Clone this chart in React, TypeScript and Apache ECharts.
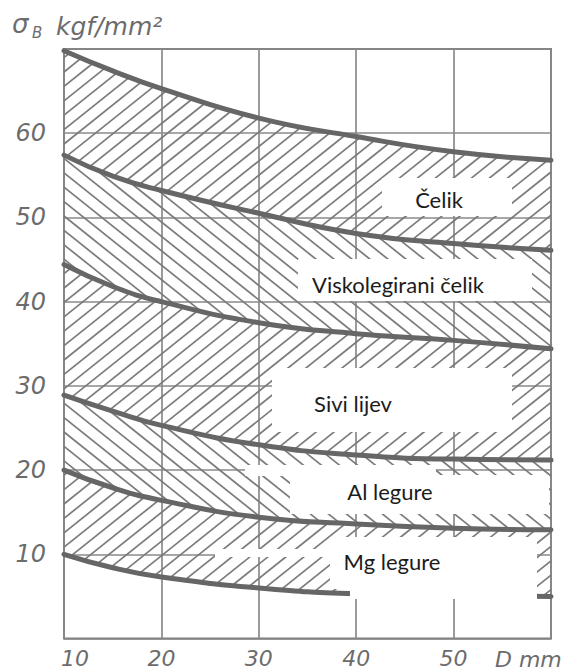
import React, { useEffect, useRef } from "react";
import * as echarts from "echarts";

// ---- data ----
const X_VALUES = [10, 15, 20, 30, 40, 50, 60];
const CELIK_TOP = [69.8, 67.4, 65.3, 61.8, 59.6, 57.8, 56.8];
const CELIK_VISKO = [57.4, 54.9, 53.2, 50.5, 48.1, 46.9, 46.1];
const VISKO_SIVI = [44.4, 41.8, 40.0, 37.5, 36.2, 35.4, 34.4];
const SIVI_AL = [28.9, 27.0, 25.3, 23.0, 21.8, 21.3, 21.2];
const AL_MG = [20.0, 17.9, 16.4, 14.4, 13.6, 13.1, 12.9];
const MG_BOTTOM = [10.0, 8.4, 7.3, 6.0, 5.3, 5.1, 5.0];
const CURVES = [CELIK_TOP, CELIK_VISKO, VISKO_SIVI, SIVI_AL, AL_MG, MG_BOTTOM];
const REGION_NAMES = ["Čelik", "Viskolegirani čelik", "Sivi lijev", "Al legure", "Mg legure"];
const X_TICK_LABELS = [10, 20, 30, 40, 50];
const Y_TICK_LABELS = [10, 20, 30, 40, 50, 60];
const X_NAME = "D mm";

// ---- layout / style ----
const W = 565;
const H = 672;
const X_MIN = 10;
const X_MAX = 60;
const Y_MIN = 0;
const Y_MAX = 70;
const HATCH_DIR = [1, -1, 1, -1, 1]; // 1 = "/", -1 = "\"
const HATCH_SLOPE = 0.8;
const HATCH_SPACING = 18;
const GRAY_LINE = "#8a8a8a";
const CURVE_COLOR = "#666666";
const HATCH_COLOR = "#7a7a7a";
const LABEL_GRAY = "#6c6c6c";
const AXIS_FONT = "DejaVu Sans";
const BOX_FONT = "Lato";

// white label boxes [x, y, w, h] and text centre per region
const LABEL_LAYOUT = [
  { boxes: [[382, 178, 130, 38]], text: [439, 199.5] },
  { boxes: [[298, 259, 234, 42]], text: [398, 284.5] },
  { boxes: [[272, 368, 240, 64]], text: [353, 403.5] },
  { boxes: [[245, 465, 191, 11], [290, 475, 259, 39]], text: [390, 491.5] },
  { boxes: [[215, 549, 120, 8], [330, 537, 207, 52], [350, 586, 187, 13]], text: [392, 561.5] },
];

// replicate echarts' smooth polyline (smooth = 0.5) and sample it
function smoothSample(pts: number[][], smooth = 0.5): number[][] {
  const out: number[][] = [[pts[0][0], pts[0][1]]];
  let cpx0 = pts[0][0];
  let cpy0 = pts[0][1];
  for (let i = 1; i < pts.length; i++) {
    const px = pts[i - 1][0];
    const py = pts[i - 1][1];
    const x = pts[i][0];
    const y = pts[i][1];
    let cpx1 = x;
    let cpy1 = y;
    let ncx = x;
    let ncy = y;
    if (i + 1 < pts.length) {
      const nx = pts[i + 1][0];
      const ny = pts[i + 1][1];
      let vx = nx - px;
      let vy = ny - py;
      const l0 = Math.hypot(x - px, y - py);
      const l1 = Math.hypot(nx - x, ny - y);
      const r = l1 / (l1 + l0);
      ncx = x + vx * smooth * r;
      ncy = y + vy * smooth * r;
      ncx = Math.min(ncx, Math.max(nx, x));
      ncy = Math.min(ncy, Math.max(ny, y));
      ncx = Math.max(ncx, Math.min(nx, x));
      ncy = Math.max(ncy, Math.min(ny, y));
      vx = ncx - x;
      vy = ncy - y;
      cpx1 = x - (vx * l0) / l1;
      cpy1 = y - (vy * l0) / l1;
      cpx1 = Math.min(cpx1, Math.max(px, x));
      cpy1 = Math.min(cpy1, Math.max(py, y));
      cpx1 = Math.max(cpx1, Math.min(px, x));
      cpy1 = Math.max(cpy1, Math.min(py, y));
      vx = x - cpx1;
      vy = y - cpy1;
      ncx = x + (vx * l1) / l0;
      ncy = y + (vy * l1) / l0;
    }
    for (let s = 1; s <= 30; s++) {
      const t = s / 30;
      const u = 1 - t;
      const bx = u * u * u * px + 3 * u * u * t * cpx0 + 3 * u * t * t * cpx1 + t * t * t * x;
      const by = u * u * u * py + 3 * u * u * t * cpy0 + 3 * u * t * t * cpy1 + t * t * t * y;
      out.push([bx, by]);
    }
    cpx0 = ncx;
    cpy0 = ncy;
  }
  return out;
}

function yAtColumns(poly: number[][], x0: number, n: number): number[] {
  const res: number[] = [];
  let j = 0;
  for (let c = 0; c <= n; c++) {
    const px = x0 + c;
    while (j < poly.length - 2 && poly[j + 1][0] < px) j++;
    const a = poly[j];
    const b = poly[j + 1];
    const t = b[0] === a[0] ? 0 : Math.max(0, Math.min(1, (px - a[0]) / (b[0] - a[0])));
    res.push(a[1] + (b[1] - a[1]) * t);
  }
  return res;
}

function renderHatch(params: any, api: any) {
  const r = params.dataIndex;
  const upper = CURVES[r];
  const lower = CURVES[r + 1];
  const up = smoothSample(X_VALUES.map((x, i) => api.coord([x, upper[i]])));
  const lo = smoothSample(X_VALUES.map((x, i) => api.coord([x, lower[i]])));
  const x0 = api.coord([X_MIN, Y_MIN])[0];
  const x1 = api.coord([X_MAX, Y_MIN])[0];
  const n = Math.floor(x1 - x0);
  const yu = yAtColumns(up, x0, n);
  const yl = yAtColumns(lo, x0, n);
  const minY = Math.min(...yu);
  const maxY = Math.max(...yl);
  const dir = HATCH_DIR[r];
  const k = HATCH_SLOPE;
  const step = HATCH_SPACING * k;
  const cLo = dir > 0 ? minY : minY - k * n;
  const cHi = dir > 0 ? maxY + k * n : maxY;
  const children: any[] = [];
  const yOf = (c: number, col: number) => c - dir * k * col;
  for (let c = Math.floor(cLo / step) * step; c <= cHi; c += step) {
    let start = -1;
    for (let col = 0; col <= n + 1; col++) {
      let inside = false;
      if (col <= n) {
        const py = yOf(c, col);
        inside = py >= yu[col] + 1 && py <= yl[col] - 1;
      }
      if (inside && start < 0) start = col;
      if (!inside && start >= 0) {
        const end = col - 1;
        if (end > start) {
          children.push({
            type: "line",
            shape: { x1: x0 + start, y1: yOf(c, start), x2: x0 + end, y2: yOf(c, end) },
            style: { stroke: HATCH_COLOR, lineWidth: 1.7 },
            silent: true,
          });
        }
        start = -1;
      }
    }
  }
  return { type: "group", children };
}

export default function App() {
  const ref = useRef<HTMLDivElement>(null);
  useEffect(() => {
    if (!ref.current) return;
    const chart = echarts.init(ref.current, null, { renderer: "svg" });

    const graphicEls: any[] = [];
    LABEL_LAYOUT.forEach((lay, i) => {
      lay.boxes.forEach((b) => {
        graphicEls.push({
          type: "rect",
          z: 10,
          silent: true,
          shape: { x: b[0], y: b[1], width: b[2], height: b[3] },
          style: { fill: "#ffffff", stroke: null },
        });
      });
      graphicEls.push({
        type: "text",
        z: 11,
        silent: true,
        style: {
          text: REGION_NAMES[i],
          x: lay.text[0],
          y: lay.text[1],
          fill: "#1c1c1c",
          font: `22px ${BOX_FONT}`,
          textAlign: "center",
          textVerticalAlign: "middle",
          align: "center",
          verticalAlign: "middle",
        },
      });
    });
    // axis titles
    const axisTxt = (text: string, x: number, y: number, size: number) => ({
      type: "text",
      z: 11,
      silent: true,
      style: {
        text,
        x,
        y,
        fill: LABEL_GRAY,
        font: `italic ${size}px '${AXIS_FONT}'`,
        textAlign: "left",
        textVerticalAlign: "middle",
        align: "left",
        verticalAlign: "middle",
      },
    });
    graphicEls.push(axisTxt("σ", 12, 24, 26));
    graphicEls.push(axisTxt("B", 32, 33, 15));
    graphicEls.push(axisTxt("kgf/mm²", 56, 26.5, 25));
    graphicEls.push(axisTxt(X_NAME, 495, 659, 22));

    chart.setOption({
      animation: false,
      backgroundColor: "#ffffff",
      grid: {
        left: 64,
        right: 14,
        top: 49,
        bottom: 33.5,
        show: true,
        borderColor: "#7a7a7a",
        borderWidth: 2,
        backgroundColor: "transparent",
      },
      xAxis: {
        type: "value",
        min: X_MIN,
        max: X_MAX,
        interval: 10,
        axisLine: { show: false },
        axisTick: { show: false },
        splitLine: { show: true, lineStyle: { color: GRAY_LINE, width: 1.7 } },
        axisLabel: {
          margin: 9,
          color: LABEL_GRAY,
          fontFamily: AXIS_FONT,
          fontStyle: "italic",
          fontSize: 22,
          formatter: (v: number) =>
            v === X_MIN ? "{first|" + v + "}" : X_TICK_LABELS.includes(v) ? String(v) : "",
          rich: {
            first: {
              color: LABEL_GRAY,
              fontFamily: AXIS_FONT,
              fontStyle: "italic",
              fontSize: 22,
              padding: [0, 0, 0, 22],
            },
          },
        },
      },
      yAxis: {
        type: "value",
        min: Y_MIN,
        max: Y_MAX,
        interval: 10,
        axisLine: { show: false },
        axisTick: { show: false },
        splitLine: { show: true, lineStyle: { color: GRAY_LINE, width: 1.7 } },
        axisLabel: {
          margin: 18,
          color: LABEL_GRAY,
          fontFamily: AXIS_FONT,
          fontStyle: "italic",
          fontSize: 24,
          formatter: (v: number) => (Y_TICK_LABELS.includes(v) ? String(v) : ""),
        },
      },
      graphic: { elements: graphicEls },
      series: [
        {
          type: "custom",
          name: "hatch",
          coordinateSystem: "cartesian2d",
          silent: true,
          z: 2,
          data: REGION_NAMES.map((nm) => ({ name: nm, value: [X_MIN, Y_MIN] })),
          renderItem: renderHatch,
        },
        ...CURVES.map((c, i) => ({
          type: "line",
          name: "curve" + i,
          data: X_VALUES.map((x, j) => [x, c[j]]),
          smooth: true,
          symbol: "none",
          silent: true,
          z: 3,
          lineStyle: { color: CURVE_COLOR, width: 5, cap: "round" },
        })),
      ],
    });
    return () => chart.dispose();
  }, []);
  return (
    <div
      ref={ref}
      style={{ position: "fixed", left: 0, top: 0, width: W, height: H, background: "#fff" }}
    />
  );
}
